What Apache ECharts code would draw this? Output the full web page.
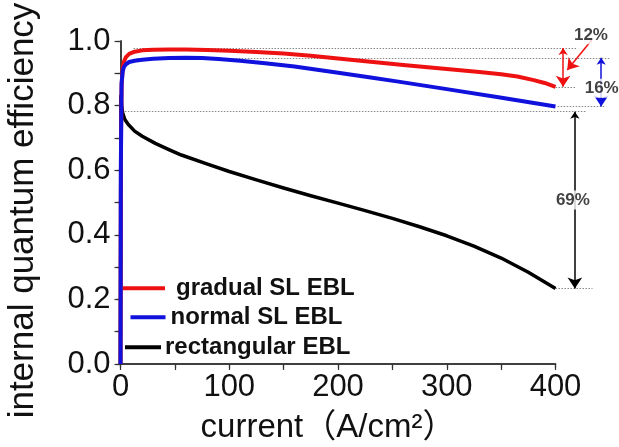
<!DOCTYPE html>
<html>
<head>
<meta charset="utf-8">
<script src="https://cdn.jsdelivr.net/npm/echarts@6/dist/echarts.min.js"></script>
<style>html,body{margin:0;padding:0;background:#fff;}#c{width:619px;height:447px;}</style>
</head>
<body>
<div id="c"></div>
<script>
// ---- data ----
const seriesNames = ['gradual SL EBL', 'normal SL EBL', 'rectangular EBL'];

const xRed = [0, 0.5, 1, 2, 3, 5, 8, 13, 20, 30, 45, 60, 80, 100, 125, 150, 175, 200, 230, 260, 300, 330, 350, 365, 380, 390, 400];
const yRed = [0, 0.72, 0.86, 0.915, 0.935, 0.95, 0.96, 0.967, 0.971, 0.973, 0.974, 0.974, 0.972, 0.970, 0.966, 0.961, 0.954, 0.946, 0.936, 0.926, 0.913, 0.904, 0.897, 0.890, 0.879, 0.870, 0.858];

const xBlue = [0, 0.3, 1, 2, 3, 5, 8, 13, 20, 30, 45, 60, 75, 90, 110, 133, 160, 197, 230, 254, 300, 349, 400];
const yBlue = [0, 0.6, 0.87, 0.905, 0.918, 0.928, 0.935, 0.939, 0.942, 0.945, 0.947, 0.948, 0.947, 0.944, 0.939, 0.931, 0.921, 0.903, 0.887, 0.875, 0.851, 0.825, 0.797];

const xBlack = [0, 0.3, 1, 2, 4, 7, 13, 20, 32, 45, 56, 80, 100, 125, 150, 175, 200, 225, 250, 275, 300, 325, 350, 375, 400];
const yBlack = [0, 0.83, 0.80, 0.777, 0.757, 0.742, 0.721, 0.705, 0.683, 0.663, 0.647, 0.619, 0.596, 0.570, 0.545, 0.521, 0.498, 0.475, 0.451, 0.425, 0.397, 0.365, 0.328, 0.284, 0.234];

const xTicks = [0, 100, 200, 300, 400];
const yTicks = [0.0, 0.2, 0.4, 0.6, 0.8, 1.0];

// annotation levels (y value, x start, x end)
const refY = [0.978, 0.948, 0.858, 0.797, 0.781, 0.234];
const refX0 = [12, 15, 400, 402, 4, 400];
const refX1 = [420, 450, 418, 445, 428, 434];

// double arrows (x, y top, y bottom)
const arrowX = [407, 442, 417.8];
const arrowTop = [0.978, 0.948, 0.781];
const arrowBottom = [0.858, 0.797, 0.234];
const arrowColors = ['#ee1111', '#1111dd', '#000000'];

// drop labels
const dropText = ['12%', '16%', '69%'];
const dropX = [432.6, 442.5, 416];
const dropY = [1.019, 0.854, 0.508];

// pointer from 12% label to red arrow
const pointerFrom = [433.3, 1.003];
const pointerTo = [410.8, 0.910];

// ---- chart ----
const zip = (xs, ys) => xs.map((x, i) => [x, ys[i]]);
const FONT = '"Liberation Sans", Arial, "Noto Sans CJK SC", sans-serif';
const AX = '#333';

const chart = echarts.init(document.getElementById('c'), null, {renderer: 'canvas'});

const grid = {left: 120.5, right: 63.5, top: 41, bottom: 83, containLabel: false, outerBoundsMode: 'none'};

function legendFor(name, left, top, w, gap) {
  return {
    data: [name], left: left, top: top, orient: 'vertical',
    icon: 'rect', itemWidth: w, itemHeight: 4, itemGap: 0,
    selectedMode: false, padding: 0,
    textStyle: {fontFamily: FONT, fontWeight: 'bold', fontSize: 24, color: '#111', lineHeight: 28, padding: [0, 0, 0, gap - 5]}
  };
}

const option = {
  animation: false,
  backgroundColor: '#fff',
  grid: grid,
  legend: [
    legendFor(seriesNames[0], 123, 274.3, 42, 11),
    legendFor(seriesNames[1], 130.5, 303.3, 35, 5),
    legendFor(seriesNames[2], 125, 333.3, 36, 4)
  ],
  xAxis: [{
    type: 'value', min: 0, max: 400, interval: 50, position: 'bottom',
    name: 'current（A/cm²）', nameLocation: 'middle', nameGap: 47,
    nameTextStyle: {fontFamily: FONT, fontSize: 33, color: '#111', padding: [0, 20, 0, 0]},
    axisLine: {show: true, lineStyle: {color: AX, width: 1.5}},
    axisTick: {show: true, inside: false, length: 6, lineStyle: {color: AX, width: 1.2}},
    axisLabel: {fontFamily: FONT, fontSize: 31, color: '#111', margin: 8,
      formatter: v => xTicks.indexOf(v) >= 0 ? String(v) : ''},
    splitLine: {show: false}
  }, {
    type: 'value', min: 0, max: 400, interval: 50, position: 'top',
    axisLine: {show: true, lineStyle: {color: AX, width: 1.5}},
    axisTick: {show: true, inside: true, length: 4, lineStyle: {color: AX, width: 1.2}},
    axisLabel: {show: false}, splitLine: {show: false}
  }],
  yAxis: [{
    type: 'value', min: 0, max: 1, interval: 0.1, position: 'left',
    name: 'internal quantum efficiency', nameLocation: 'middle', nameRotate: 90, nameGap: 80,
    nameTextStyle: {fontFamily: FONT, fontSize: 35, color: '#111', padding: [0, 16, 0, 0]},
    axisLine: {show: true, lineStyle: {color: AX, width: 1.5}},
    axisTick: {show: true, inside: false, length: 6, lineStyle: {color: AX, width: 1.2}},
    axisLabel: {fontFamily: FONT, fontSize: 31, color: '#111', margin: 10,
      formatter: v => {
        const r = Math.round(v * 10) / 10;
        return yTicks.some(t => Math.abs(t - r) < 1e-6) ? r.toFixed(1) : '';
      }},
    splitLine: {show: false}
  }, {
    type: 'value', min: 0, max: 1, interval: 0.1, position: 'right',
    axisLine: {show: true, lineStyle: {color: AX, width: 1.5}},
    axisTick: {show: true, inside: true, length: 4, lineStyle: {color: AX, width: 1.2}},
    axisLabel: {show: false}, splitLine: {show: false}
  }],
  series: [
    {
      name: 'refs', type: 'lines', coordinateSystem: 'cartesian2d', clip: false, silent: true,
      z: 1,
      lineStyle: {color: '#888', width: 1.2, type: [1.5, 1.5], opacity: 1},
      data: refY.map((y, i) => ({coords: [[refX0[i], y], [refX1[i], y]]}))
    },
    {
      name: seriesNames[2], type: 'line', showSymbol: false, symbol: 'none', z: 3,
      smooth: false,
      color: '#000000', lineStyle: {color: '#000000', width: 3.5, join: 'round'},
      data: zip(xBlack, yBlack)
    },
    {
      name: seriesNames[0], type: 'line', showSymbol: false, symbol: 'none', z: 4,
      smooth: false,
      color: '#ee1111', lineStyle: {color: '#ee1111', width: 4, join: 'round'},
      data: zip(xRed, yRed)
    },
    {
      name: seriesNames[1], type: 'line', showSymbol: false, symbol: 'none', z: 5,
      smooth: false,
      color: '#1111dd', lineStyle: {color: '#1111dd', width: 4, join: 'round'},
      data: zip(xBlue, yBlue)
    },
    {
      name: 'arrows', type: 'lines', coordinateSystem: 'cartesian2d', clip: false, silent: true,
      z: 6, symbol: ['arrow', 'arrow'], symbolSize: [7, 11],
      data: arrowX.map((x, i) => ({
        coords: [[x, arrowTop[i]], [x, arrowBottom[i]]],
        lineStyle: {color: arrowColors[i], width: 1.5, opacity: 1}
      }))
    },
    {
      name: 'pointer', type: 'lines', coordinateSystem: 'cartesian2d', clip: false, silent: true,
      z: 6, symbol: ['none', 'arrow'], symbolSize: [7, 11],
      data: [{coords: [pointerFrom, pointerTo], lineStyle: {color: '#ee1111', width: 1.5, opacity: 1}}]
    },
    {
      name: 'drops', type: 'scatter', clip: false, silent: true, z: 7,
      symbolSize: 1, itemStyle: {color: 'rgba(0,0,0,0)'},
      label: {
        show: true, position: 'inside', fontFamily: FONT, fontWeight: 'bold', fontSize: 17,
        color: '#111', backgroundColor: '#fff', padding: [1, 0],
        formatter: p => dropText[p.dataIndex]
      },
      data: dropX.map((x, i) => [x, dropY[i]])
    }
  ]
};
chart.setOption(option);
</script>
</body>
</html>
